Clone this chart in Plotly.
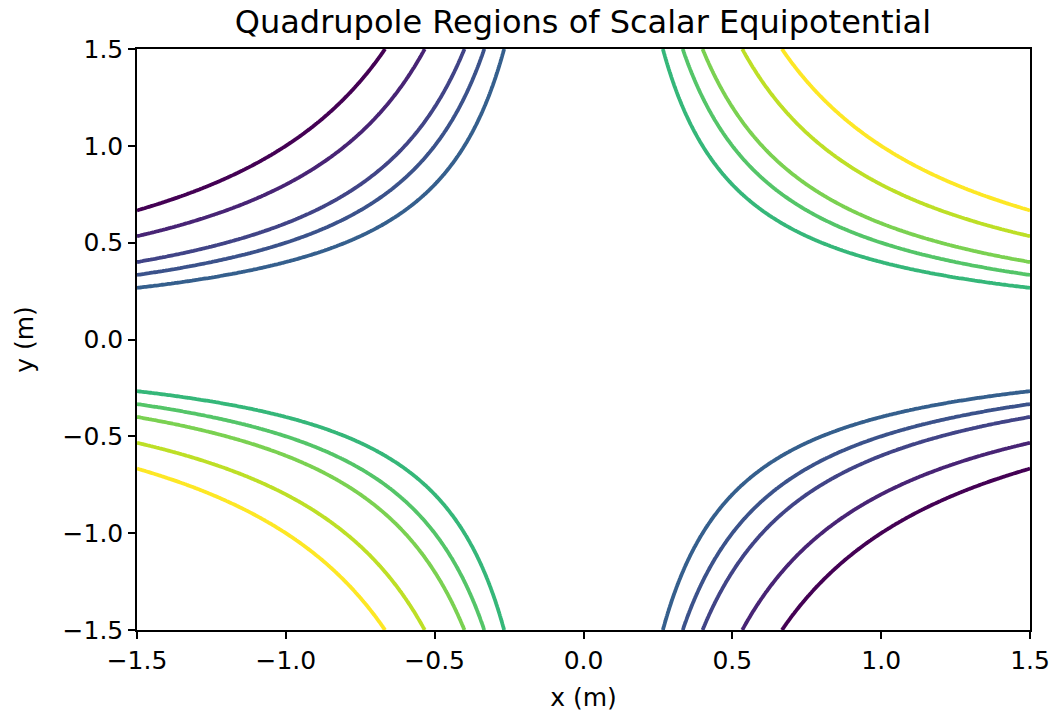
import numpy as np
import plotly.graph_objects as go

# Contour levels of the scalar potential V = x*y
levels = [-1.0, -0.8, -0.6, -0.5, -0.4, 0.4, 0.5, 0.6, 0.8, 1.0]
# viridis colours (normalised over the level range)
level_colors = ["#440154", "#482475", "#414487", "#3b528b", "#355f8d",
                "#35b779", "#54c568", "#7ad151", "#bddf26", "#fde725"]
tick_vals = [-1.5, -1.0, -0.5, 0.0, 0.5, 1.0, 1.5]

x = np.linspace(-1.5, 1.5, 601)
y = np.linspace(-1.5, 1.5, 601)
X, Y = np.meshgrid(x, y)
Z = X * Y

fig = go.Figure()
for lev, col in zip(levels, level_colors):
    fig.add_trace(go.Contour(
        x=x, y=y, z=Z,
        autocontour=False,
        contours=dict(start=lev, end=lev, size=1, coloring="lines"),
        colorscale=[[0, col], [1, col]],
        line=dict(width=3.8, smoothing=0),
        showscale=False,
        hoverinfo="skip",
    ))

font = "DejaVu Sans"
axis_common = dict(
    range=[-1.5, 1.5], tickvals=tick_vals, tickformat=".1f",
    showgrid=False, zeroline=False, showline=True, linecolor="black",
    linewidth=1.5, mirror=True, ticks="outside", ticklen=7, tickwidth=1.5,
    tickcolor="black", tickfont=dict(family=font, size=25, color="black"),
    automargin=False,
)

fig.update_layout(
    width=1056, height=713,
    margin=dict(l=137, r=26, t=49, b=83),
    paper_bgcolor="white", plot_bgcolor="white",
    title=dict(text="Quadrupole Regions of Scalar Equipotential",
               x=0.552, xanchor="center", y=0.969, yanchor="middle",
               font=dict(family=font, size=32, color="black")),
    xaxis=dict(title=dict(text="x (m)", font=dict(family=font, size=25, color="black"), standoff=15),
               **axis_common),
    yaxis=dict(title=dict(text="y (m)", font=dict(family=font, size=25, color="black"), standoff=22),
               **axis_common),
    showlegend=False,
)

fig.write_html("out.html")
